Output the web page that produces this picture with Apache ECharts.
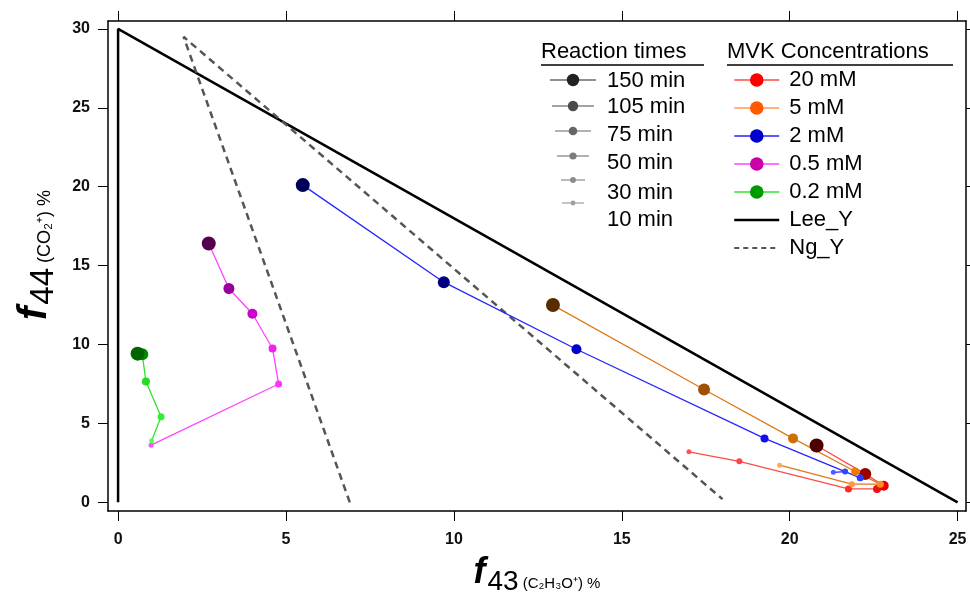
<!DOCTYPE html>
<html lang="en">
<head>
    <meta charset="UTF-8">
    <title>f44 vs f43 triangle plot</title>
    <style>
        *{
            margin: 0;
            padding: 0;
        }
        body,html{
            width: 100%;
            height: 100%;
            background: #fff;
        }
        #main{
            width: 970px;
            height: 601px;
        }
    </style>
</head>
<body>

<div id="main"></div>

<script src="https://cdn.jsdelivr.net/npm/echarts@6/dist/echarts.min.js"></script>
<script type="text/javascript">
    // ticks on both axes
    var xTicks = [0, 5, 10, 15, 20, 25];
    var yTicks = [0, 5, 10, 15, 20, 25, 30];

    // [f43, f44] in %, ordered from first sample (10 min) to last (150 min)
    var mvk20 = [[17.0, 3.2], [18.5, 2.6], [21.75, 0.85], [22.6, 0.85], [22.8, 1.05], [22.25, 1.8], [20.8, 3.6]];
    var mvk5 = [[19.7, 2.35], [21.85, 1.15], [22.7, 1.15], [21.95, 1.95], [20.1, 4.05], [17.45, 7.15], [12.95, 12.5]];
    var mvk2 = [[21.3, 1.9], [21.65, 1.95], [22.1, 1.55], [19.25, 4.05], [13.65, 9.7], [9.7, 13.95], [5.5, 20.1]];
    var mvk05 = [[0.98, 3.62], [4.78, 7.5], [4.6, 9.75], [4.0, 11.95], [3.3, 13.55], [2.7, 16.4]];
    var mvk02 = [[1.0, 3.9], [1.28, 5.42], [0.83, 7.65], [0.72, 9.38], [0.58, 9.42]];

    // reference lines
    var leeY = [[0, 0], [0, 30], [25, 0]];
    var ngY = [[6.9, 0], [1.95, 29.5], [18.0, 0.2]];

    var concNames = ['20 mM', '5 mM', '2 mM', '0.5 mM', '0.2 mM'];
    var reactionTimes = ['150 min', '105 min', '75 min', '50 min', '30 min', '10 min'];

    // point colours / sizes go from light+small (early) to dark+big (late)
    var styles = {
        '20 mM': {line: '#ff4a4a', icon: '#ff0000',
            colors: ['#ff5555', '#ff4444', '#ff2a2a', '#f01010', '#e80000', '#990000', '#4d0000'],
            sizes: [5, 6, 7, 8, 10, 12, 14]},
        '5 mM': {line: '#dd7a1a', icon: '#ff5a00', iconLine: '#ff9955',
            colors: ['#ffaa55', '#ff9933', '#ff8a20', '#f07a00', '#cc7000', '#a05000', '#582c00'],
            sizes: [5, 6, 7, 8, 10, 12, 14]},
        '2 mM': {line: '#2525ff', icon: '#0000cc',
            colors: ['#4d5dff', '#3344ff', '#2a3cff', '#1010ee', '#0000cc', '#000080', '#000058'],
            sizes: [5, 6, 7, 8, 10, 12, 14]},
        '0.5 mM': {line: '#ff44ff', icon: '#cc00aa',
            colors: ['#ff55ff', '#ff33ff', '#ee22ee', '#cc00cc', '#990099', '#55004f'],
            sizes: [5, 7, 8, 10, 11, 14]},
        '0.2 mM': {line: '#33e033', icon: '#009900',
            colors: ['#55ff55', '#33ee33', '#22dd22', '#008800', '#006600'],
            sizes: [5, 7, 8, 12, 14]}
    };
    var concData = {'20 mM': mvk20, '5 mM': mvk5, '2 mM': mvk2, '0.5 mM': mvk05, '0.2 mM': mvk02};

    var FONT = 'Liberation Sans, Arial, sans-serif';

    var myChart = echarts.init(document.getElementById('main'));

    var series = [
        {
            name: 'Lee_Y',
            type: 'line',
            data: leeY,
            symbol: 'none',
            lineStyle: {color: '#000', width: 2.5},
            itemStyle: {color: '#000'},
            z: 2
        },
        {
            name: 'Ng_Y',
            type: 'line',
            data: ngY,
            symbol: 'none',
            lineStyle: {color: '#555', width: 2.5, type: [7, 5]},
            itemStyle: {color: '#555'},
            z: 2
        }
    ];

    concNames.forEach(function (name) {
        var st = styles[name];
        series.push({
            name: name,
            type: 'line',
            symbol: 'circle',
            data: concData[name].map(function (p, i) {
                return {
                    value: p,
                    symbolSize: st.sizes[i],
                    itemStyle: {color: st.colors[i]}
                };
            }),
            lineStyle: {color: st.line, width: 1.3},
            itemStyle: {color: st.icon, borderWidth: 0},
            z: 3
        });
    });

    // legend entries: the reference lines have no dot
    var legendData = concNames.map(function (name) {
        var st = styles[name];
        return {name: name, lineStyle: {color: st.iconLine || st.line, width: 1.3}};
    });
    legendData.push({name: 'Lee_Y', itemStyle: {opacity: 0}, lineStyle: {width: 2.5}});
    legendData.push({name: 'Ng_Y', itemStyle: {opacity: 0}, lineStyle: {width: 2, type: [5, 4]}});

    // reaction time legend, drawn by hand (grey dots of growing size)
    var rtIconY = [80, 106, 131, 156, 180, 203];
    var rtTextY = [81, 107, 135, 163, 193, 220];
    var rtRadius = [6.2, 5.2, 4.3, 3.6, 2.9, 2.4];
    var rtHalf = [23, 21, 18, 16, 12, 11];
    var rtColor = ['#222', '#4a4a4a', '#666', '#7d7d7d', '#8c8c8c', '#9e9e9e'];

    var graphics = [
        {type: 'text', left: 541, top: 41,
            style: {text: 'Reaction times', font: '22px ' + FONT, fill: '#000'}},
        {type: 'line', shape: {x1: 541, y1: 65, x2: 704, y2: 65}, style: {stroke: '#000', lineWidth: 1.5}},
        {type: 'text', left: 727, top: 41,
            style: {text: 'MVK Concentrations', font: '22px ' + FONT, fill: '#000'}},
        {type: 'line', shape: {x1: 727, y1: 65, x2: 953, y2: 65}, style: {stroke: '#000', lineWidth: 1.5}}
    ];
    reactionTimes.forEach(function (t, i) {
        graphics.push({type: 'line', shape: {x1: 573 - rtHalf[i], y1: rtIconY[i], x2: 573 + rtHalf[i], y2: rtIconY[i]},
            style: {stroke: rtColor[i], lineWidth: 1.2}});
        graphics.push({type: 'circle', shape: {cx: 573, cy: rtIconY[i], r: rtRadius[i]}, style: {fill: rtColor[i]}});
        graphics.push({type: 'text', x: 607, y: rtTextY[i],
            style: {text: t, font: '22px ' + FONT, fill: '#000', verticalAlign: 'middle'}});
    });

    var tickStyle = {show: true, inside: false, length: 10, lineStyle: {color: '#000', width: 1}};

    var option = {
        backgroundColor: '#fff',
        animation: false,
        grid: {left: 108, right: 4, top: 21, bottom: 83},
        legend: {
            orient: 'vertical',
            left: 728,
            top: 64,
            itemWidth: 45,
            itemHeight: 17,
            itemGap: 6,
            data: legendData,
            textStyle: {fontSize: 22, fontFamily: FONT, color: '#000', lineHeight: 22, padding: [0, 0, 0, 5]}
        },
        graphic: graphics,
        xAxis: [
            {
                type: 'value',
                position: 'bottom',
                min: -0.3,
                max: 25.25,
                axisLine: {show: true, onZero: false, lineStyle: {color: '#000', width: 1.5}},
                axisTick: Object.assign({customValues: xTicks}, tickStyle),
                axisLabel: {customValues: xTicks, margin: 21, fontSize: 16, fontWeight: 'bold', color: '#111', fontFamily: FONT},
                splitLine: {show: false},
                name: '{f|f}{n|43}{s|(C₂H₃O⁺) %}',
                nameLocation: 'middle',
                nameGap: 44,
                nameTextStyle: {
                    rich: {
                        f: {fontSize: 36, fontStyle: 'italic', fontWeight: 'bold', fontFamily: FONT, color: '#000',
                            verticalAlign: 'bottom', padding: [0, 2, 5, 0]},
                        n: {fontSize: 28, fontFamily: FONT, color: '#000', verticalAlign: 'bottom', padding: [0, 4, 0, 0]},
                        s: {fontSize: 15, fontFamily: FONT, color: '#000', verticalAlign: 'bottom', padding: [0, 0, 5, 0]}
                    }
                }
            },
            {
                type: 'value',
                position: 'top',
                min: -0.3,
                max: 25.25,
                axisLine: {show: true, onZero: false, lineStyle: {color: '#000', width: 1.5}},
                axisTick: Object.assign({customValues: xTicks}, tickStyle),
                axisLabel: {show: false},
                splitLine: {show: false}
            }
        ],
        yAxis: [
            {
                type: 'value',
                position: 'left',
                min: -0.55,
                max: 30.5,
                axisLine: {show: true, onZero: false, lineStyle: {color: '#000', width: 1.5}},
                axisTick: Object.assign({customValues: yTicks}, tickStyle),
                axisLabel: {customValues: yTicks, margin: 18, fontSize: 16, fontWeight: 'bold', color: '#111', fontFamily: FONT},
                splitLine: {show: false},
                name: '{f|f}{n|44}{s|(CO₂⁺) %}',
                nameLocation: 'middle',
                nameRotate: 90,
                nameGap: 48,
                nameTextStyle: {
                    rich: {
                        f: {fontSize: 40, fontStyle: 'italic', fontWeight: 'bold', fontFamily: FONT, color: '#000',
                            verticalAlign: 'bottom', padding: [0, 2, 5, 22]},
                        n: {fontSize: 33, fontFamily: FONT, color: '#000', verticalAlign: 'bottom', padding: [0, 5, 0, 0]},
                        s: {fontSize: 18, fontFamily: FONT, color: '#000', verticalAlign: 'bottom', padding: [0, 0, 6, 0]}
                    }
                }
            },
            {
                type: 'value',
                position: 'right',
                min: -0.55,
                max: 30.5,
                axisLine: {show: true, onZero: false, lineStyle: {color: '#000', width: 1.5}},
                axisTick: Object.assign({customValues: yTicks}, tickStyle),
                axisLabel: {show: false},
                splitLine: {show: false}
            }
        ],
        series: series
    };
    myChart.setOption(option);
</script>
</body>
</html>
